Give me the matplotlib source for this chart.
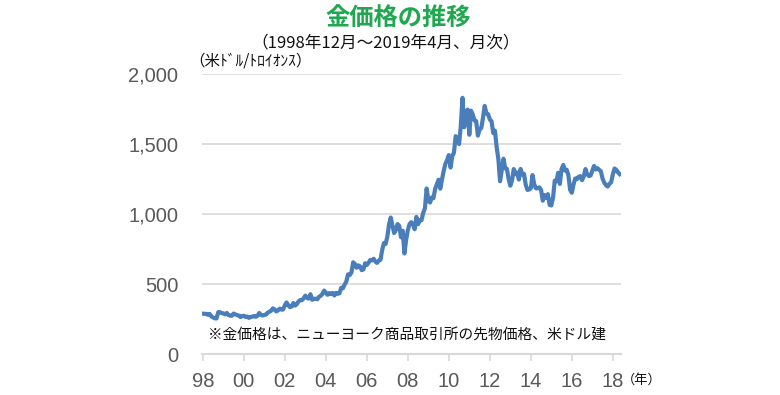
import matplotlib
matplotlib.use("Agg")
import matplotlib.pyplot as plt
import numpy as np

# Monthly gold futures price (USD/troy oz), Dec 1998 - Apr 2019
gold_1998 = [288]
gold_1999 = [287, 287, 280, 286, 268, 261, 255, 254, 299, 299, 292, 290]
gold_2000 = [283, 293, 278, 274, 273, 289, 283, 278, 275, 264, 270, 273]
gold_2001 = [265, 267, 258, 264, 267, 271, 266, 273, 293, 279, 275, 279]
gold_2002 = [282, 296, 302, 309, 326, 318, 304, 312, 324, 317, 318, 348]
gold_2003 = [368, 348, 335, 339, 364, 346, 355, 376, 385, 384, 398, 417]
gold_2004 = [400, 396, 427, 387, 394, 395, 391, 408, 416, 429, 453, 438]
gold_2005 = [423, 435, 428, 436, 418, 437, 430, 434, 473, 470, 496, 518]
gold_2006 = [569, 564, 583, 655, 643, 616, 633, 626, 599, 604, 648, 636]
gold_2007 = [652, 672, 669, 680, 660, 651, 667, 673, 744, 792, 786, 838]
gold_2008 = [926, 975, 917, 864, 886, 928, 914, 834, 880, 718, 815, 884]
gold_2009 = [928, 942, 924, 891, 979, 927, 955, 955, 1008, 1040, 1182, 1097]
gold_2010 = [1082, 1118, 1113, 1180, 1212, 1245, 1181, 1248, 1308, 1359, 1386, 1421]
gold_2011 = [1332, 1411, 1439, 1556, 1536, 1500, 1628, 1830, 1620, 1725, 1746, 1566]
gold_2012 = [1738, 1710, 1669, 1664, 1560, 1604, 1614, 1687, 1772, 1719, 1712, 1675]
gold_2013 = [1663, 1578, 1595, 1476, 1393, 1234, 1312, 1395, 1326, 1323, 1250, 1202]
gold_2014 = [1240, 1321, 1284, 1296, 1246, 1322, 1282, 1287, 1210, 1172, 1175, 1184]
gold_2015 = [1278, 1212, 1183, 1184, 1190, 1172, 1095, 1135, 1115, 1142, 1065, 1061]
gold_2016 = [1116, 1238, 1234, 1294, 1215, 1321, 1350, 1311, 1316, 1277, 1173, 1152]
gold_2017 = [1211, 1254, 1249, 1266, 1270, 1242, 1269, 1321, 1284, 1271, 1275, 1309]
gold_2018 = [1343, 1318, 1327, 1316, 1305, 1253, 1224, 1206, 1196, 1215, 1226, 1282]
gold_2019 = [1325, 1316, 1298, 1285]

gold = (gold_1998 + gold_1999 + gold_2000 + gold_2001 + gold_2002 + gold_2003
        + gold_2004 + gold_2005 + gold_2006 + gold_2007 + gold_2008 + gold_2009
        + gold_2010 + gold_2011 + gold_2012 + gold_2013 + gold_2014 + gold_2015
        + gold_2016 + gold_2017 + gold_2018 + gold_2019)

x_tick_labels = ["98", "00", "02", "04", "06", "08", "10", "12", "14", "16", "18"]
y_ticks = [0, 500, 1000, 1500, 2000]
y_tick_labels = ["0", "500", "1,000", "1,500", "2,000"]

JP = ["Noto Sans CJK JP", "DejaVu Sans"]
NUM = ["Liberation Sans", "DejaVu Sans"]
GRAY = "#595959"
GRID = "#d9d9d9"

fig = plt.figure(figsize=(7.8, 3.95), dpi=100)
ax = fig.add_axes([202 / 780, 41 / 395, 418.5 / 780, 280 / 395])

idx = np.arange(len(gold))
ax.plot(idx, gold, color="#4A7EBB", lw=3.0, solid_joinstyle="round", zorder=3)

ax.set_xlim(-0.5, 244.5)
ax.set_ylim(0, 2000)
ax.set_yticks(y_ticks)
ax.set_yticklabels(y_tick_labels, fontfamily=NUM, fontsize=14.5, color=GRAY)
ax.set_xticks(np.arange(0, 241, 24))
ax.set_xticklabels(x_tick_labels, fontfamily=NUM, fontsize=14.5, color=GRAY)

ax.grid(axis="y", color=GRID, lw=1.2, zorder=0)
for s in ["top", "right", "left"]:
    ax.spines[s].set_visible(False)
ax.spines["bottom"].set_color(GRID)
ax.spines["bottom"].set_linewidth(1.5)
ax.tick_params(axis="y", length=0, pad=17)
ax.tick_params(axis="x", length=5, width=1.2, color=GRID, pad=8)

fig.text(398 / 780, 1 - 19 / 395, "金価格の推移", family=JP, fontsize=17.5,
         fontweight="bold", color="#1FA84F", ha="center", va="center")
fig.text(386 / 780, 1 - 43 / 395, "（1998年12月～2019年4月、月次）", family=JP,
         fontsize=12, color="#111111", ha="center", va="center")
fig.text(189 / 780, 1 - 61 / 395, "（米ﾄﾞﾙ/ﾄﾛｲｵﾝｽ）", family=JP,
         fontsize=11.2, color="#111111", ha="left", va="center")
fig.text(208 / 780, 1 - 336 / 395, "※金価格は、ニューヨーク商品取引所の先物価格、米ドル建",
         family=JP, fontsize=10.6, color="#111111", ha="left", va="center")
fig.text(622 / 780, 1 - 380 / 395, "（年）", family=JP, fontsize=9.5,
         color="#111111", ha="left", va="center")

fig.savefig("out.png", dpi=100)
